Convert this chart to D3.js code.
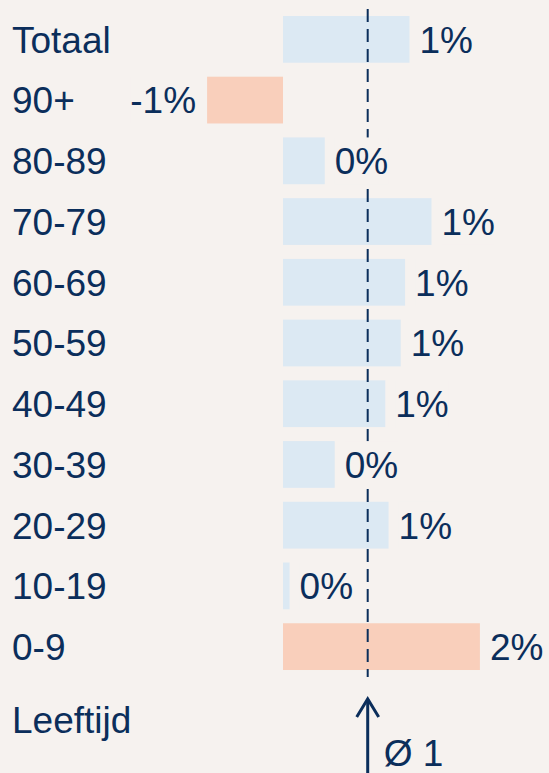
<!DOCTYPE html>
<html>
<head>
<meta charset="utf-8">
<script src="https://cdn.jsdelivr.net/npm/d3@7"></script>
<style>
  html, body { margin: 0; padding: 0; background: #f6f2ef; }
  svg { display: block; font-family: "Liberation Sans", Arial, Helvetica, sans-serif; }
</style>
</head>
<body>
<div id="container"></div>
<script>
/* DATA */
const ageGroups = ["Totaal", "90+", "80-89", "70-79", "60-69", "50-59", "40-49", "30-39", "20-29", "10-19", "0-9"];
const changes = [1.15, -0.69, 0.38, 1.35, 1.11, 1.07, 0.93, 0.47, 0.96, 0.06, 1.79];
const highlighted = ["90+", "0-9"];
const average = 0.77;
const axisTitle = "Leeftijd";

const data = ageGroups.map((g, i) => ({ group: g, value: changes[i] }));

/* CONSTANTS */
const width = 549;
const height = 773;
const bg = "#f6f2ef";
const navy = "#0b2e5b";
const blue = "#dce9f3";
const salmon = "#f9cfbb";
const fontSize = 37;

/* SCALES */
const xScale = d3.scaleLinear()
  .domain([0, 1])
  .range([283, 393]);

const yScale = d3.scaleBand()
  .domain(ageGroups)
  .range([9, 677])
  .paddingInner(0.23)
  .paddingOuter(0.115);

const fmt = v => Math.round(v) + "%";

/* SVG */
const svg = d3.select("#container")
  .append("svg")
  .attr("width", width)
  .attr("height", height);

svg.append("rect")
  .attr("width", width)
  .attr("height", height)
  .attr("fill", bg);

// bars
svg.selectAll("rect.bar")
  .data(data)
  .join("rect")
  .attr("class", "bar")
  .attr("x", d => Math.min(xScale(0), xScale(d.value)))
  .attr("width", d => Math.abs(xScale(d.value) - xScale(0)))
  .attr("y", d => yScale(d.group))
  .attr("height", yScale.bandwidth())
  .attr("fill", d => highlighted.includes(d.group) ? salmon : blue);

// average line
svg.append("line")
  .attr("x1", xScale(average))
  .attr("x2", xScale(average))
  .attr("y1", 9)
  .attr("y2", 677)
  .attr("stroke", navy)
  .attr("stroke-width", 2)
  .attr("stroke-dasharray", "13,7");

// row labels
svg.selectAll("text.row")
  .data(data)
  .join("text")
  .attr("class", "row")
  .text(d => d.group)
  .attr("x", 12)
  .attr("y", d => yScale(d.group) + yScale.bandwidth() / 2)
  .attr("dy", "0.36em")
  .style("fill", navy)
  .style("font-size", fontSize + "px");

// value labels (with a background box that hides the dashed line)
const valG = svg.selectAll("g.val")
  .data(data)
  .join("g")
  .attr("class", "val");

const valText = valG.append("text")
  .text(d => fmt(d.value))
  .attr("x", d => d.value < 0 ? xScale(d.value) - 11 : xScale(d.value) + 10)
  .attr("text-anchor", d => d.value < 0 ? "end" : "start")
  .attr("y", d => yScale(d.group) + yScale.bandwidth() / 2)
  .attr("dy", "0.36em")
  .style("fill", navy)
  .style("font-size", fontSize + "px");

valG.insert("rect", "text")
  .each(function(d) {
    const bb = d3.select(this.parentNode).select("text").node().getBBox();
    d3.select(this)
      .attr("x", bb.x)
      .attr("width", bb.width)
      .attr("y", yScale(d.group))
      .attr("height", yScale.bandwidth())
      .attr("fill", bg);
  });

// axis title
svg.append("text")
  .text(axisTitle)
  .attr("x", 12)
  .attr("y", 733)
  .style("fill", navy)
  .style("font-size", fontSize + "px");

// arrow to average
const ax = xScale(average);
svg.append("line")
  .attr("x1", ax).attr("x2", ax)
  .attr("y1", 699).attr("y2", height)
  .attr("stroke", navy)
  .attr("stroke-width", 3);

svg.append("path")
  .attr("d", `M${ax - 11},${717} L${ax},${699} L${ax + 11},${717}`)
  .attr("fill", "none")
  .attr("stroke", navy)
  .attr("stroke-width", 3);

svg.append("text")
  .text("Ø " + Math.round(average))
  .attr("x", ax + 16)
  .attr("y", 766)
  .style("fill", navy)
  .style("font-size", fontSize + "px");
</script>
</body>
</html>
